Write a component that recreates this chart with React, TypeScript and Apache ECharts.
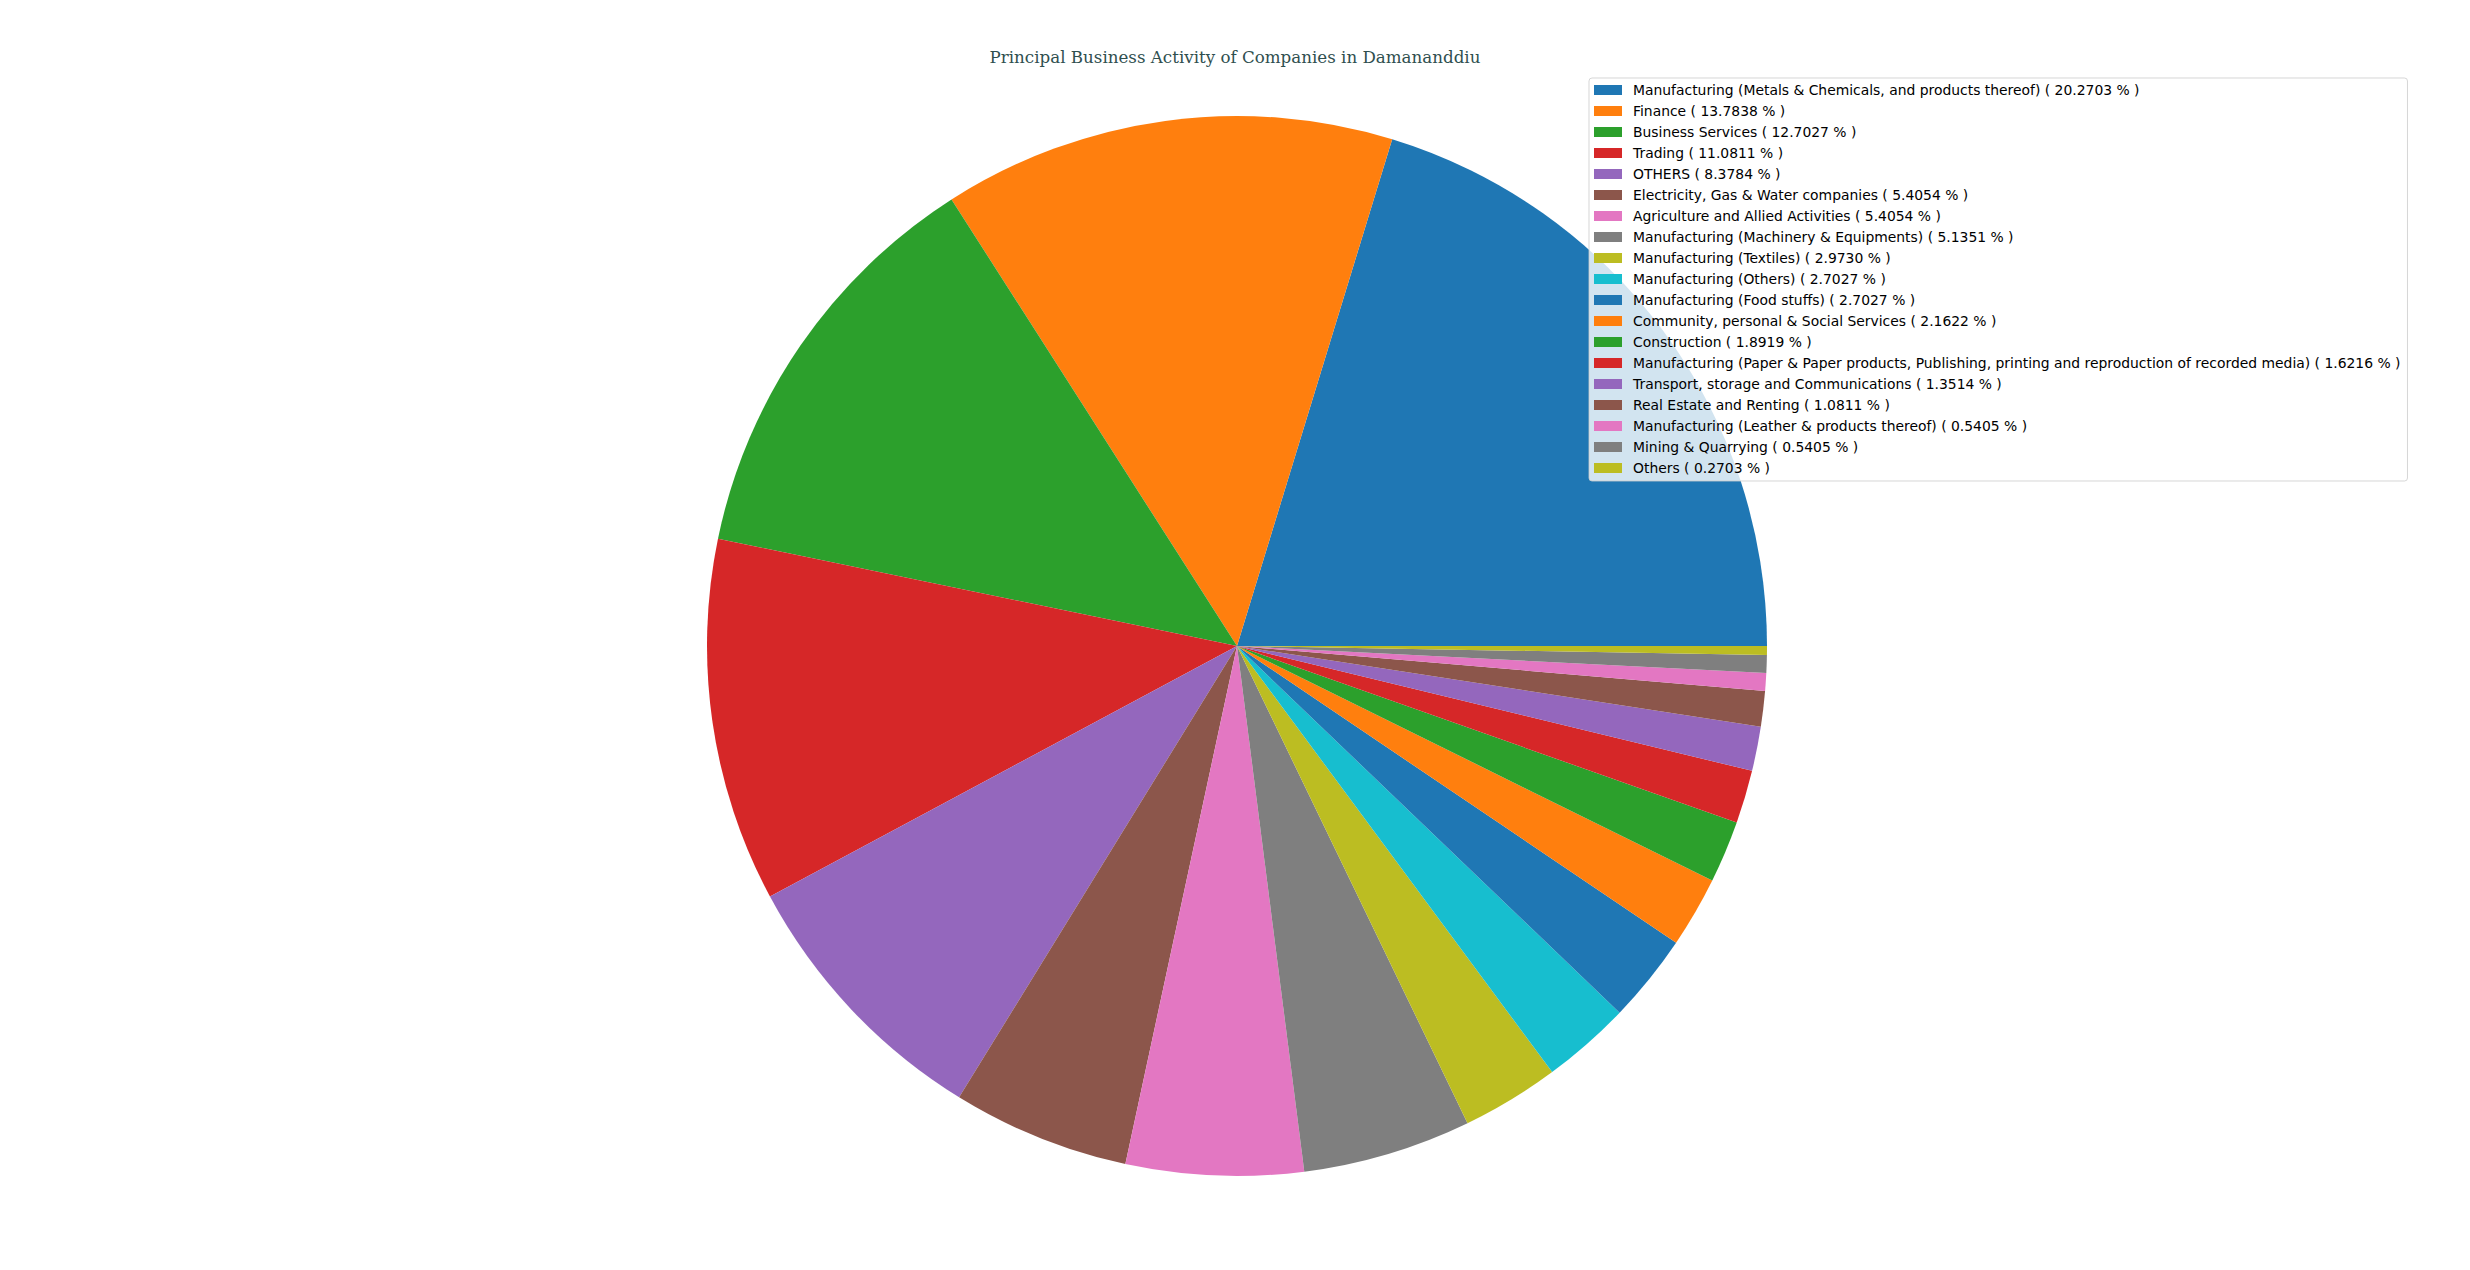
import { useEffect, useRef } from 'react';
import * as echarts from 'echarts';

const categories = [
  'Manufacturing (Metals & Chemicals, and products thereof)',
  'Finance',
  'Business Services',
  'Trading',
  'OTHERS',
  'Electricity, Gas & Water companies',
  'Agriculture and Allied Activities',
  'Manufacturing (Machinery & Equipments)',
  'Manufacturing (Textiles)',
  'Manufacturing (Others)',
  'Manufacturing (Food stuffs)',
  'Community, personal & Social Services',
  'Construction',
  'Manufacturing (Paper & Paper products, Publishing, printing and reproduction of recorded media)',
  'Transport, storage and Communications',
  'Real Estate and Renting',
  'Manufacturing (Leather & products thereof)',
  'Mining & Quarrying',
  'Others',
];

const companyCounts = [75, 51, 47, 41, 31, 20, 20, 19, 11, 10, 10, 8, 7, 6, 5, 4, 2, 2, 1];

const palette = [
  '#1f77b4', '#ff7f0e', '#2ca02c', '#d62728', '#9467bd',
  '#8c564b', '#e377c2', '#7f7f7f', '#bcbd22', '#17becf',
];

const chartTitle = 'Principal Business Activity of Companies in Damananddiu';

export default function App() {
  const chartRef = useRef<HTMLDivElement>(null);

  useEffect(() => {
    if (!chartRef.current) return;
    const chart = echarts.init(chartRef.current, undefined, { renderer: 'svg' });

    const total = companyCounts.reduce((sum, v) => sum + v, 0);
    const labels = categories.map(
      (name, i) => `${name} ( ${((companyCounts[i] / total) * 100).toFixed(4)} % )`
    );

    const option: echarts.EChartsOption = {
      animation: false,
      color: palette,
      title: {
        text: chartTitle,
        left: 'center',
        top: 48,
        padding: 0,
        textStyle: {
          fontFamily: 'DejaVu Serif',
          fontSize: 16.7,
          fontWeight: 'normal',
          color: '#2f4f4f',
        },
      },
      legend: {
        orient: 'vertical',
        left: 1589,
        top: 78,
        z: 10,
        padding: [5, 7, 6, 5],
        itemGap: 7,
        itemWidth: 28,
        itemHeight: 10,
        icon: 'rect',
        backgroundColor: 'rgba(255,255,255,0.8)',
        borderColor: 'rgba(204,204,204,0.8)',
        borderWidth: 1,
        borderRadius: 3,
        selectedMode: false,
        data: labels,
        textStyle: {
          fontFamily: 'DejaVu Sans',
          fontSize: 13.9,
          lineHeight: 14,
          color: '#000000',
          padding: [0, 0, 0, 6],
        },
      },
      series: [
        {
          type: 'pie',
          z: 1,
          center: [1237, 646],
          radius: 530,
          startAngle: 0,
          clockwise: false,
          label: { show: false },
          labelLine: { show: false },
          emphasis: { disabled: true },
          itemStyle: { borderWidth: 0 },
          data: labels.map((label, i) => ({ name: label, value: companyCounts[i] })),
        },
      ],
    };

    chart.setOption(option);
    return () => chart.dispose();
  }, []);

  return (
    <div
      ref={chartRef}
      style={{ position: 'fixed', left: 0, top: 0, width: 2470, height: 1270, background: '#ffffff' }}
    />
  );
}
